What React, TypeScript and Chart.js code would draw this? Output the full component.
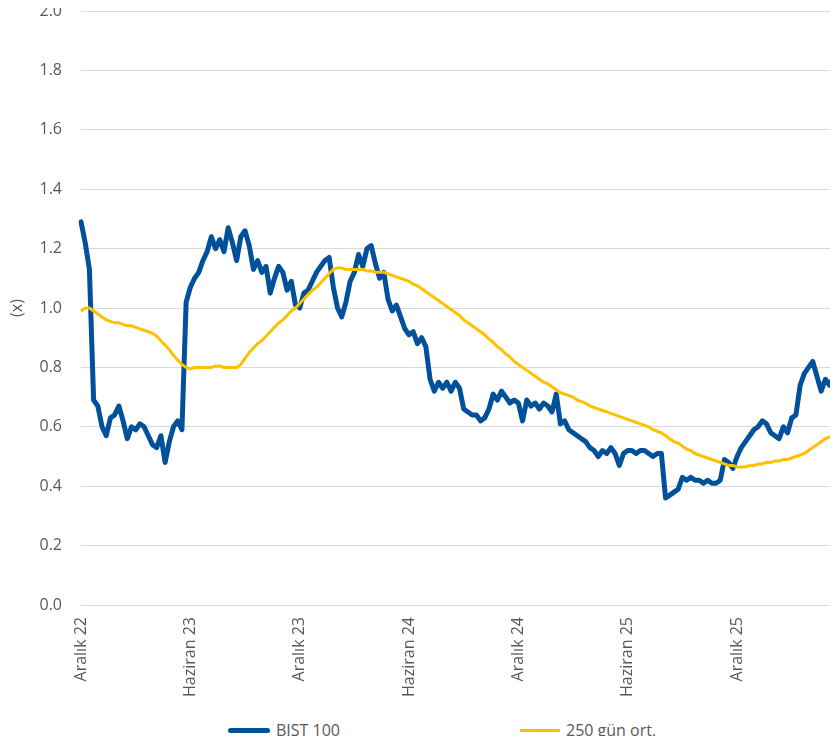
import React, { useEffect, useRef } from "react";
import { Chart, registerables } from "chart.js";

Chart.register(...registerables);

// Tick labels placed every half-year (26 weekly points apart)
const tickLabels = ["Aralık 22", "Haziran 23", "Aralık 23", "Haziran 24", "Aralık 24", "Haziran 25", "Aralık 25"];
const weeksPerTick = 26;

// BIST 100 (x), weekly readings
const bist100 = [
  1.29, 1.22, 1.13, 0.69, 0.67, 0.6, 0.57, 0.63, 0.64, 0.67,
  0.62, 0.56, 0.6, 0.59, 0.61, 0.6, 0.57, 0.54, 0.53, 0.57,
  0.48, 0.55, 0.6, 0.62, 0.59, 1.02, 1.07, 1.1, 1.12, 1.16,
  1.19, 1.24, 1.2, 1.23, 1.19, 1.27, 1.22, 1.16, 1.24, 1.26,
  1.21, 1.13, 1.16, 1.12, 1.14, 1.05, 1.1, 1.14, 1.12, 1.06,
  1.09, 1.01, 1.0, 1.05, 1.06, 1.09, 1.12, 1.14, 1.16, 1.17,
  1.07, 1.0, 0.97, 1.02, 1.09, 1.12, 1.18, 1.14, 1.2, 1.21,
  1.15, 1.1, 1.12, 1.03, 0.99, 1.01, 0.97, 0.93, 0.91, 0.92,
  0.88, 0.9, 0.87, 0.76, 0.72, 0.75, 0.73, 0.75, 0.72, 0.75,
  0.73, 0.66, 0.65, 0.64, 0.64, 0.62, 0.63, 0.66, 0.71, 0.69,
  0.72, 0.7, 0.68, 0.69, 0.68, 0.62, 0.69, 0.67, 0.68, 0.66,
  0.68, 0.67, 0.65, 0.71, 0.61, 0.62, 0.59, 0.58, 0.57, 0.56,
  0.55, 0.53, 0.52, 0.5, 0.52, 0.51, 0.53, 0.51, 0.47, 0.51,
  0.52, 0.52, 0.51, 0.52, 0.52, 0.51, 0.5, 0.51, 0.51, 0.36,
  0.37, 0.38, 0.39, 0.43, 0.42, 0.43, 0.42, 0.42, 0.41, 0.42,
  0.41, 0.41, 0.42, 0.49, 0.48, 0.46, 0.5, 0.53, 0.55, 0.57,
  0.59, 0.6, 0.62, 0.61, 0.58, 0.57, 0.56, 0.6, 0.58, 0.63,
  0.64, 0.74, 0.78, 0.8, 0.82, 0.77, 0.72, 0.76, 0.74, 0.77,
  0.72,
];

// 250-day moving average (x)
const ma250 = [
  0.99, 1.0, 1.0, 0.99, 0.98, 0.97, 0.96, 0.955, 0.95, 0.95,
  0.945, 0.94, 0.94, 0.935, 0.93, 0.925, 0.92, 0.915, 0.905, 0.89,
  0.875, 0.86, 0.84, 0.825, 0.81, 0.8, 0.795, 0.8, 0.8, 0.8,
  0.8, 0.8, 0.805, 0.805, 0.8, 0.8, 0.8, 0.8, 0.81, 0.83,
  0.85, 0.865, 0.88, 0.89, 0.905, 0.92, 0.935, 0.95, 0.96, 0.975,
  0.99, 1.0, 1.015, 1.03, 1.045, 1.06, 1.07, 1.085, 1.1, 1.115,
  1.13, 1.135, 1.135, 1.13, 1.13, 1.13, 1.13, 1.13, 1.125, 1.125,
  1.12, 1.12, 1.12, 1.115, 1.11, 1.105, 1.1, 1.095, 1.09, 1.08,
  1.075, 1.065, 1.055, 1.045, 1.035, 1.025, 1.015, 1.005, 0.995, 0.985,
  0.975, 0.96, 0.95, 0.94, 0.93, 0.92, 0.91, 0.895, 0.885, 0.87,
  0.86, 0.845, 0.835, 0.82, 0.81, 0.8, 0.79, 0.78, 0.77, 0.76,
  0.75, 0.745, 0.735, 0.725, 0.715, 0.71, 0.705, 0.7, 0.69, 0.685,
  0.68, 0.67, 0.665, 0.66, 0.655, 0.65, 0.645, 0.64, 0.635, 0.63,
  0.625, 0.62, 0.615, 0.61, 0.605, 0.6, 0.59, 0.585, 0.58, 0.57,
  0.56, 0.55, 0.545, 0.535, 0.525, 0.52, 0.51, 0.505, 0.5, 0.495,
  0.49, 0.485, 0.48, 0.475, 0.47, 0.47, 0.465, 0.465, 0.465, 0.47,
  0.47, 0.475, 0.475, 0.48, 0.48, 0.485, 0.485, 0.49, 0.49, 0.495,
  0.5, 0.505, 0.51, 0.52, 0.53, 0.54, 0.55, 0.56, 0.565, 0.575,
  0.58,
];

const BLUE = "#00509A";
const YELLOW = "#FFC000";
const TEXT = "#595959";
const FONT = "'Open Sans', sans-serif";

export default function App() {
  const canvasRef = useRef<HTMLCanvasElement | null>(null);

  useEffect(() => {
    if (!canvasRef.current) return;
    const labels = bist100.map((_, i) =>
      i % weeksPerTick === 0 && i / weeksPerTick < tickLabels.length ? tickLabels[i / weeksPerTick] : ""
    );
    const chart = new Chart(canvasRef.current, {
      type: "line",
      data: {
        labels,
        datasets: [
          {
            label: "BIST 100",
            data: bist100,
            borderColor: BLUE,
            backgroundColor: BLUE,
            borderWidth: 5,
            borderCapStyle: "round",
            borderJoinStyle: "round",
            pointRadius: 0,
            tension: 0,
            order: 1,
          },
          {
            label: "250 gün ort.",
            data: ma250,
            borderColor: YELLOW,
            backgroundColor: YELLOW,
            borderWidth: 3,
            pointRadius: 0,
            tension: 0,
            order: 0,
          },
        ],
      },
      options: {
        animation: false,
        responsive: true,
        maintainAspectRatio: false,
        layout: { padding: { top: 11, right: 0, left: 0, bottom: 0 } },
        plugins: { legend: { display: false }, tooltip: { enabled: false } },
        scales: {
          x: {
            offset: false,
            grid: { display: false, drawTicks: false },
            border: { display: false },
            ticks: {
              autoSkip: false,
              maxRotation: 90,
              minRotation: 90,
              padding: 12,
              color: TEXT,
              font: { family: FONT, size: 16 },
            },
            afterFit: (s: any) => {
              s.height = 105;
              s.paddingLeft = 0;
              s.paddingRight = 0;
            },
          },
          y: {
            min: 0,
            max: 2,
            ticks: {
              stepSize: 0.2,
              padding: 19,
              color: TEXT,
              font: { family: FONT, size: 16 },
              callback: (v: any) => Number(v).toFixed(1),
            },
            grid: { color: "#D9D9D9", lineWidth: 1, drawTicks: false },
            border: { display: false },
            title: {
              display: true,
              text: "(x)",
              color: TEXT,
              font: { family: FONT, size: 16 },
              padding: { top: 8, bottom: 0 },
            },
            afterFit: (s: any) => {
              s.width = 81;
              s.paddingTop = 0;
              s.paddingBottom = 0;
            },
          },
        },
      },
    });
    return () => chart.destroy();
  }, []);

  const textStyle: React.CSSProperties = {
    position: "absolute",
    fontFamily: FONT,
    fontSize: 16,
    lineHeight: "20px",
    color: TEXT,
    whiteSpace: "nowrap",
  };

  return (
    <div style={{ position: "relative", width: 838, height: 744, margin: -8, overflow: "hidden", background: "#fff" }}>
      <div style={{ position: "absolute", left: 0, top: 0, width: 838, height: 710 }}>
        <canvas ref={canvasRef} />
      </div>
      <div style={{ position: "absolute", left: 228, top: 727.5, width: 42, height: 5, background: BLUE, borderRadius: 2.5 }} />
      <span style={{ ...textStyle, left: 276, top: 720 }}>BIST 100</span>
      <div style={{ position: "absolute", left: 520, top: 728.5, width: 40, height: 3, background: YELLOW }} />
      <span style={{ ...textStyle, left: 566, top: 720 }}>250 gün ort.</span>
    </div>
  );
}
